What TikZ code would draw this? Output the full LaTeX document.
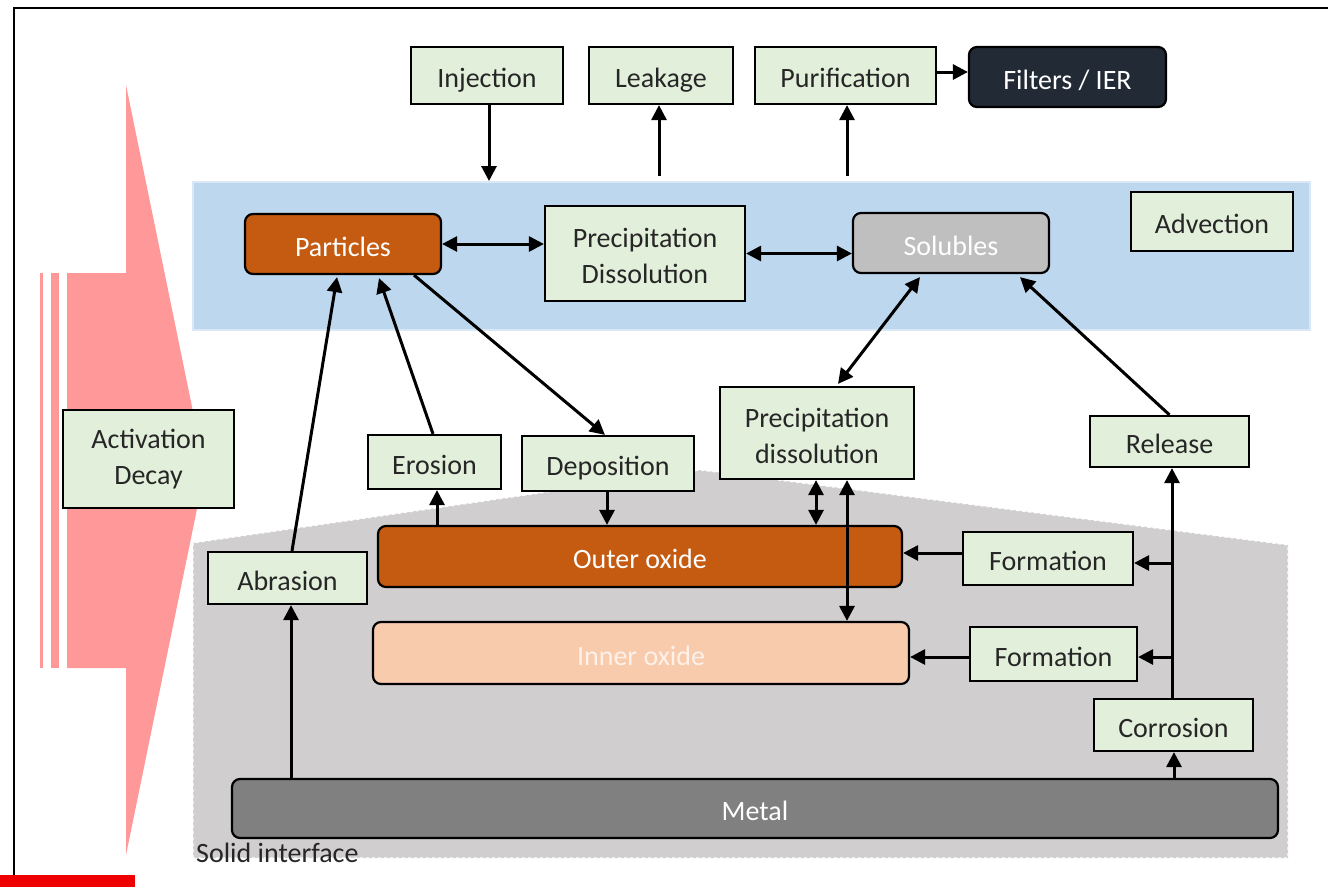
\documentclass[tikz,border=0pt]{standalone}
\usepackage{fontspec}
\setmainfont{Carlito}
\usetikzlibrary{arrows.meta,calc}
\definecolor{boxgreen}{HTML}{E2EFDA}
\definecolor{liq}{HTML}{BDD7EE}
\definecolor{liqedge}{HTML}{DAE8F5}
\definecolor{solidgray}{HTML}{D0CECE}
\definecolor{pinkarr}{HTML}{FF9999}
\definecolor{rust}{HTML}{C55A11}
\definecolor{peach}{HTML}{F8CBAD}
\definecolor{peachtext}{HTML}{FDF1E9}
\definecolor{solgray}{HTML}{BFBFBF}
\definecolor{metalgray}{HTML}{808080}
\definecolor{navy}{HTML}{222A35}
\definecolor{txt}{HTML}{262626}
\definecolor{redbar}{HTML}{EE0000}
\newcommand{\topstrut}{\rule{0pt}{25pt}}
\tikzset{
  box/.style={draw=black, line width=2.2pt, fill=boxgreen, text=txt, inner sep=0pt, align=center,
    font=\fontsize{28}{36}\selectfont},
  one/.style={text height=30pt, text depth=6pt},
  rbox/.style={box, one, rounded corners=8pt},
  arr/.style={line width=3pt, -{Triangle[length=15pt,width=15pt]}},
  darr/.style={line width=3pt, {Triangle[length=15pt,width=15pt]}-{Triangle[length=15pt,width=15pt]}},
}
\begin{document}
\begin{tikzpicture}[x=1pt,y=-1pt]
\useasboundingbox (0,0) rectangle (1328,887);
% frame
\draw[line width=2.5pt] (14,875) -- (14,8) -- (1330,8);
\fill[redbar] (0,875) rectangle (135,887);
% pink activation arrow
\fill[pinkarr] (126,85) -- (205,470) -- (126,855) -- (126,668) -- (67,668) -- (67,273) -- (126,273) -- cycle;
\fill[pinkarr] (40,273) rectangle (43,668);
\fill[pinkarr] (51,273) rectangle (59,668);
% liquid region
\node[draw=liqedge, line width=2pt, fill=liq, minimum width=1117pt, minimum height=148pt, inner sep=0pt] (liquid) at (751.5,256) {};
% solid region
\fill[solidgray] (193,858) -- (193,543) -- (700,470) -- (1288,545) -- (1288,858) -- cycle;
\draw[white, dashed, line width=1.2pt] (193,858) -- (193,543) -- (700,470) -- (1288,545) -- (1288,858) -- cycle;
\node[anchor=base west, inner sep=0pt, text=txt, font=\fontsize{28}{36}\selectfont] (solidlab) at (196,862) {Solid interface};
% top boxes
\node[box, one, minimum width=152pt, minimum height=57pt] (inj) at (487,75.5) {Injection};
\node[box, one, minimum width=144pt, minimum height=57pt] (leak) at (661,75.5) {Leakage};
\node[box, one, minimum width=181pt, minimum height=57pt] (pur) at (845.5,75.5) {Purification};
\node[rbox, fill=navy, text=white, minimum width=197pt, minimum height=60pt] (filt) at (1067.5,77) {Filters / IER};
% liquid boxes
\node[rbox, fill=rust, text=white, minimum width=196pt, minimum height=60pt] (part) at (343,244) {Particles};
\node[box, minimum width=200pt, minimum height=95pt] (pd1) at (645,253.5) {\topstrut Precipitation\\Dissolution};
\node[rbox, fill=solgray, text=white, minimum width=196pt, minimum height=60pt] (sol) at (951,243) {Solubles};
\node[box, one, minimum width=162pt, minimum height=59pt] (adv) at (1212,221.5) {Advection};
% left
\node[box, line width=1.5pt, minimum width=171pt, minimum height=98pt] (act) at (148.5,459) {Activation\\Decay};
% middle boxes
\node[box, one, minimum width=133pt, minimum height=54pt] (eros) at (434.5,462) {Erosion};
\node[box, one, minimum width=172pt, minimum height=55pt] (dep) at (608,463.5) {Deposition};
\node[box, minimum width=194pt, minimum height=92pt] (pd2) at (817,433) {\topstrut Precipitation\\dissolution};
\node[box, one, minimum width=159pt, minimum height=51pt] (rel) at (1169.5,441.5) {Release};
% solid boxes
\node[box, one, minimum width=159pt, minimum height=52pt] (abr) at (287.5,578) {Abrasion};
\node[rbox, fill=rust, text=white, minimum width=524pt, minimum height=61pt] (outer) at (640,556.5) {Outer oxide};
\node[box, one, minimum width=170pt, minimum height=53pt] (form1) at (1048,558.5) {Formation};
\node[rbox, fill=peach, text=peachtext, minimum width=536pt, minimum height=62pt] (inner) at (641,653) {Inner oxide};
\node[box, one, minimum width=167pt, minimum height=54pt] (form2) at (1053.5,654) {Formation};
\node[box, one, minimum width=159pt, minimum height=52pt] (corr) at (1173.5,725) {Corrosion};
\node[rbox, fill=metalgray, text=white, minimum width=1046pt, minimum height=59pt] (metal) at (755,808.5) {Metal};
% arrows top
\draw[arr] ([xshift=2pt]inj.south) -- ([xshift=2pt]inj.south |- liquid.north);
\draw[arr] ([xshift=-2pt,yshift=-71pt]leak.south) -- ([xshift=-2pt]leak.south);
\draw[arr] ([xshift=1.5pt,yshift=-71pt]pur.south) -- ([xshift=1.5pt]pur.south);
\draw[arr] ([yshift=3.5pt]pur.east) -- ([yshift=3.5pt]pur.east -| filt.west);
% liquid arrows
\draw[darr] (part.east) -- (part.east -| pd1.west);
\draw[darr] (pd1.east) -- (pd1.east -| sol.west);
% particles
\draw[arr] ([xshift=4.5pt]abr.north) -- ([xshift=-6pt,yshift=-2pt]part.south);
\draw[arr] ([xshift=-1.5pt]eros.north) -- ([xshift=36pt,yshift=-3pt]part.south);
\draw[arr] ([xshift=71pt]part.south) -- ([xshift=-3pt]dep.north);
\draw[arr] ([xshift=2.5pt]eros.south |- outer.north) -- ([xshift=2.5pt]eros.south);
\draw[arr] ([xshift=-1pt]dep.south) -- ([xshift=-1pt]dep.south |- outer.north);
\draw[arr] ([xshift=3.5pt]abr.south |- metal.north) -- ([xshift=3.5pt]abr.south);
% solubles
\draw[darr] ([xshift=-31pt,yshift=-3pt]sol.south) -- ([xshift=21pt,yshift=2pt]pd2.north);
\draw[arr] (rel.north) -- ([xshift=69pt,yshift=-3pt]sol.south);
\draw[darr] ([xshift=-1pt]pd2.south) -- ([xshift=-1pt]pd2.south |- outer.north);
\draw[darr] ([xshift=30pt]pd2.south) -- ([xshift=30pt]pd2.south |- inner.north);
% formation
\draw[arr] ([yshift=5.5pt]form1.west) -- ([yshift=5.5pt]form1.west -| outer.east);
\draw[arr] ([yshift=-3pt]form2.west) -- ([yshift=-3pt]form2.west -| inner.east);
\coordinate (trunk) at ([xshift=-1.5pt]corr.north);
\draw[arr] (trunk) -- (trunk |- rel.south);
\draw[arr] ([yshift=-4.5pt]form1.east -| trunk) -- ([yshift=-4.5pt]form1.east);
\draw[arr] ([yshift=-3pt]form2.east -| trunk) -- ([yshift=-3pt]form2.east);
\draw[arr] ([xshift=0.5pt]corr.south |- metal.north) -- ([xshift=0.5pt]corr.south);
\end{tikzpicture}
\end{document}
